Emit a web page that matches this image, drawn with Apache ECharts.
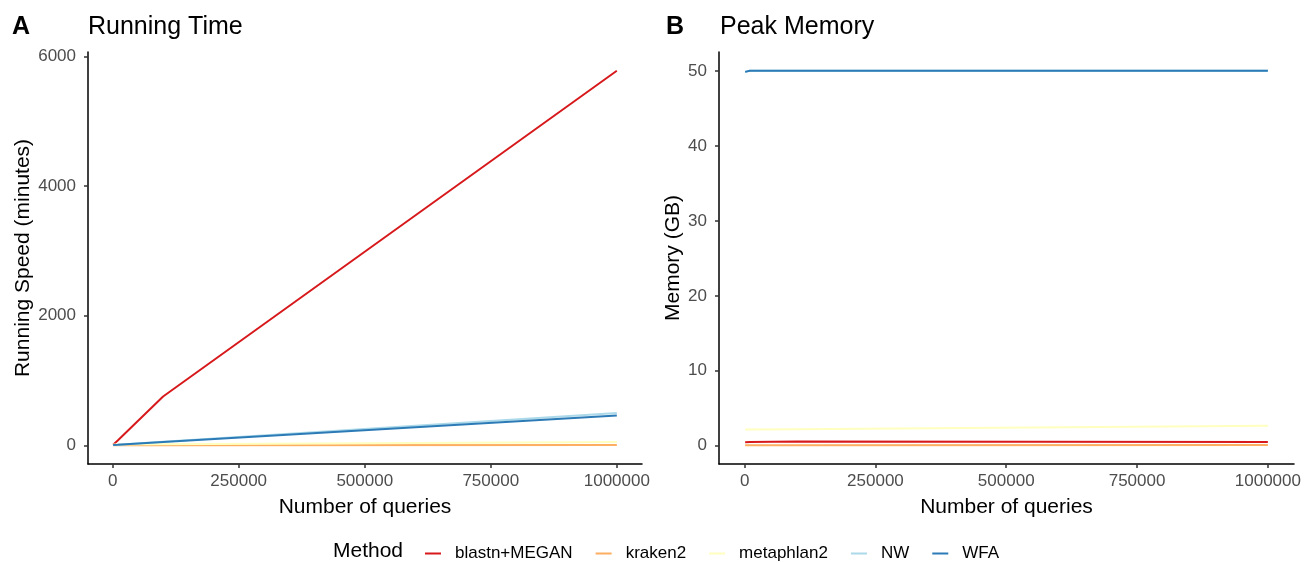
<!DOCTYPE html>
<html>
<head>
<meta charset="utf-8">
<script src="https://cdn.jsdelivr.net/npm/echarts@6/dist/echarts.min.js"></script>
<style>
  html, body { margin: 0; padding: 0; background: #fff; }
  #chart { width: 1305px; height: 563px; }
</style>
</head>
<body>
<div id="chart"></div>
<script>
// number of queries (x values)
var queries = [1000, 10000, 100000, 1000000];
var methods = ['blastn+MEGAN', 'kraken2', 'metaphlan2', 'NW', 'WFA'];

// running time, minutes
var timeBlastn = [8, 75, 754, 5784];
var timeKraken = [0.2, 0.5, 1, 4];
var timeMetaphlan = [12, 13, 17, 50];
var timeNW = [5, 8, 55, 500];
var timeWFA = [5, 7, 50, 461];

// peak memory, GB
var memBlastn = [0.45, 0.5, 0.55, 0.5];
var memKraken = [0.05, 0.05, 0.06, 0.08];
var memMetaphlan = [2.15, 2.16, 2.2, 2.65];
var memNW = [49.9, 50.05, 50.05, 50.05];
var memWFA = [49.9, 50.05, 50.05, 50.05];

// tick labels
var xTicks = [0, 250000, 500000, 750000, 1000000];
var timeTicks = [0, 2000, 4000, 6000];
var memTicks = [0, 10, 20, 30, 40, 50];

var palette = ['#D7191C', '#FDAE61', '#FFFFBF', '#ABD9E9', '#2C7BB6'];
var font = 'Liberation Sans, Arial, Helvetica, sans-serif';

function pairs(ys) {
    return queries.map(function (q, i) { return [q, ys[i]]; });
}

function plain(v) { return String(v); }

function xAxisFor(gridIndex) {
    return {
        type: 'value',
        gridIndex: gridIndex,
        min: -48950,
        max: 1049950,
        name: 'Number of queries',
        nameLocation: 'middle',
        nameGap: 33,
        nameTextStyle: { color: '#000', fontSize: 21, fontFamily: font },
        splitLine: { show: false },
        axisLine: { onZero: false, lineStyle: { color: '#000', width: 1.5 } },
        axisTick: { customValues: xTicks, length: 4, lineStyle: { color: '#333', width: 1.5 } },
        axisLabel: {
            customValues: xTicks,
            margin: 9,
            color: '#4D4D4D',
            fontSize: 17,
            fontFamily: font,
            formatter: plain
        }
    };
}

function yAxisFor(gridIndex, name, min, max, ticks, gap) {
    return {
        type: 'value',
        gridIndex: gridIndex,
        min: min,
        max: max,
        name: name,
        nameLocation: 'middle',
        nameGap: gap,
        nameTextStyle: { color: '#000', fontSize: 21, fontFamily: font },
        splitLine: { show: false },
        axisLine: { show: true, onZero: false, lineStyle: { color: '#000', width: 1.5 } },
        axisTick: { show: true, customValues: ticks, length: 4, lineStyle: { color: '#333', width: 1.5 } },
        axisLabel: {
            customValues: ticks,
            margin: 12,
            color: '#4D4D4D',
            fontSize: 17,
            fontFamily: font,
            formatter: plain
        }
    };
}

var timeData = [timeBlastn, timeKraken, timeMetaphlan, timeNW, timeWFA];
var memData = [memBlastn, memKraken, memMetaphlan, memNW, memWFA];

var series = [];
[timeData, memData].forEach(function (panel, p) {
    panel.forEach(function (ys, i) {
        series.push({
            name: methods[i],
            type: 'line',
            xAxisIndex: p,
            yAxisIndex: p,
            symbol: 'none',
            color: palette[i],
            lineStyle: { width: 2, color: palette[i] },
            data: pairs(ys)
        });
    });
});

var chart = echarts.init(document.getElementById('chart'));
chart.setOption({
    animation: false,
    backgroundColor: '#fff',
    grid: [
        { left: 88, top: 52, width: 554, height: 412 },
        { left: 719, top: 52, width: 575, height: 412 }
    ],
    xAxis: [xAxisFor(0), xAxisFor(1)],
    yAxis: [
        yAxisFor(0, 'Running Speed (minutes)', -289, 6073, timeTicks, 54),
        yAxisFor(1, 'Memory (GB)', -2.45, 52.55, memTicks, 34)
    ],
    legend: {
        data: methods,
        left: 420,
        top: 540,
        icon: 'rect',
        itemWidth: 16,
        itemHeight: 2,
        itemGap: 23,
        textStyle: { color: '#000', fontSize: 17, fontFamily: font, padding: [0, 0, 0, 9] }
    },
    graphic: [
        { type: 'text', left: 12, top: 15, style: { text: 'A', fontSize: 25, fontWeight: 'bold', fill: '#000', fontFamily: font } },
        { type: 'text', left: 88, top: 15, style: { text: 'Running Time', fontSize: 25, fill: '#000', fontFamily: font } },
        { type: 'text', left: 666, top: 15, style: { text: 'B', fontSize: 25, fontWeight: 'bold', fill: '#000', fontFamily: font } },
        { type: 'text', left: 720, top: 15, style: { text: 'Peak Memory', fontSize: 25, fill: '#000', fontFamily: font } },
        { type: 'text', left: 333, top: 541, style: { text: 'Method', fontSize: 21, fill: '#000', fontFamily: font } }
    ],
    series: series
});
</script>
</body>
</html>
